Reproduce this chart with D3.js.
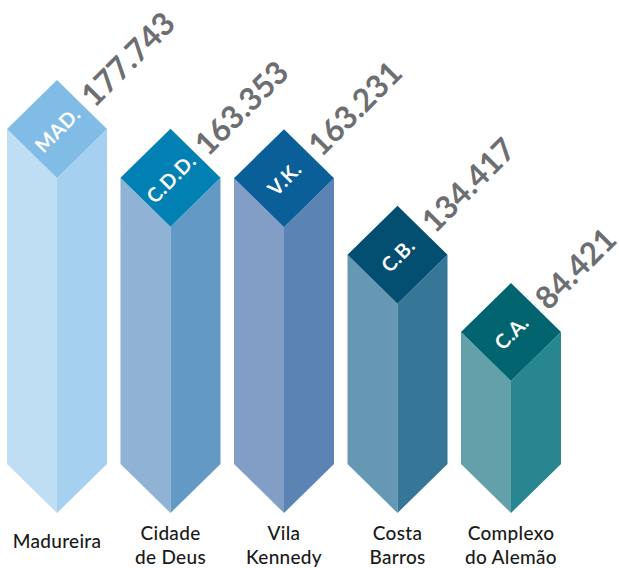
<!DOCTYPE html>
<html>
<head>
<meta charset="utf-8">
<script src="https://cdn.jsdelivr.net/npm/d3@7"></script>
<style>
  html, body { margin: 0; padding: 0; background: #ffffff; }
  svg { display: block; }
</style>
</head>
<body>
<div id="chart"></div>
<script>
// ---- data ----
const categories = ["Madureira", "Cidade de Deus", "Vila Kennedy", "Costa Barros", "Complexo do Alemão"];
const labelLines = [["Madureira"], ["Cidade", "de Deus"], ["Vila", "Kennedy"], ["Costa", "Barros"], ["Complexo", "do Alemão"]];
const abbreviations = ["MAD.", "C.D.D.", "V.K.", "C.B.", "C.A."];
const values = [177.743, 163.353, 163.231, 134.417, 84.421];
const valueLabels = ["177.743", "163.353", "163.231", "134.417", "84.421"];
const topColors = ["#81bce6", "#0180b3", "#0a5f98", "#024f71", "#01646f"];
const leftColors = ["#bfdef3", "#90b2d4", "#839ec6", "#6698b4", "#63a0aa"];
const rightColors = ["#a6d0ef", "#629ac5", "#5b83b3", "#367797", "#288690"];

const W = 619, H = 568;
const halfW = 50, halfH = 49;   // diamond half-diagonals
const baseY = 513;               // bottom point of each bar

const svg = d3.select("#chart").append("svg").attr("width", W).attr("height", H);

const x = d3.scalePoint().domain(categories).range([57, 511]);
const yTop = d3.scalePow().exponent(2.8).domain(d3.extent(values)).range([283, 80]);

const data = categories.map((c, i) => ({
  c, i, v: values[i], label: valueLabels[i], abbr: abbreviations[i], lines: labelLines[i]
}));

const g = svg.selectAll("g.bar").data(data).join("g").attr("class", "bar");

const line = d3.line();
// left face
g.append("path")
  .attr("fill", d => leftColors[d.i])
  .attr("d", d => {
    const cx = x(d.c), t = yTop(d.v);
    return line([[cx - halfW, t + halfH], [cx, t + 2 * halfH], [cx, baseY], [cx - halfW, baseY - halfH]]) + "Z";
  });
// right face
g.append("path")
  .attr("fill", d => rightColors[d.i])
  .attr("d", d => {
    const cx = x(d.c), t = yTop(d.v);
    return line([[cx + halfW, t + halfH], [cx, t + 2 * halfH], [cx, baseY], [cx + halfW, baseY - halfH]]) + "Z";
  });
// top diamond
g.append("path")
  .attr("fill", d => topColors[d.i])
  .attr("d", d => {
    const cx = x(d.c), t = yTop(d.v);
    return line([[cx, t], [cx + halfW, t + halfH], [cx, t + 2 * halfH], [cx - halfW, t + halfH]]) + "Z";
  });

// rotated labels
const rg = g.append("g")
  .attr("transform", d => `translate(${x(d.c)},${yTop(d.v) + halfH}) rotate(-45)`);

rg.append("text")
  .attr("x", 0).attr("y", 0)
  .attr("text-anchor", "middle")
  .attr("dominant-baseline", "central")
  .attr("fill", "#ffffff")
  .style("font-family", "Lato, 'Open Sans', sans-serif")
  .style("font-weight", "700")
  .style("font-size", "20px")
  .style("letter-spacing", "0.5px")
  .text(d => d.abbr);

rg.append("text")
  .attr("x", 41).attr("y", 0)
  .attr("text-anchor", "start")
  .attr("dominant-baseline", "central")
  .attr("fill", "#6d6e71")
  .style("font-family", "Lato, 'Open Sans', sans-serif")
  .style("font-weight", "700")
  .style("font-size", "31.5px")
  .style("letter-spacing", "0px")
  .text(d => d.label);

// category labels
const cat = svg.selectAll("text.cat").data(data).join("text")
  .attr("class", "cat")
  .attr("text-anchor", "middle")
  .attr("fill", "#1a1a1a")
  .style("font-family", "Lato, 'Open Sans', sans-serif")
  .style("font-weight", "500")
  .style("font-size", "19px")
  .style("letter-spacing", "0.3px");

cat.each(function(d) {
  const t = d3.select(this);
  const n = d.lines.length;
  const y0 = n === 1 ? 548 : 540;
  d.lines.forEach((s, k) => {
    t.append("tspan").attr("x", x(d.c)).attr("y", y0 + k * 24).text(s);
  });
});
</script>
</body>
</html>
